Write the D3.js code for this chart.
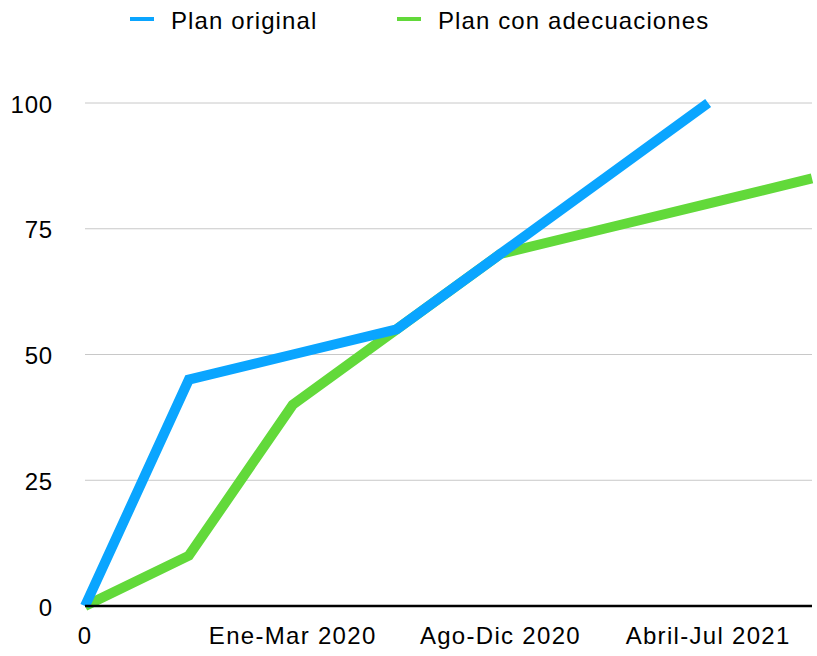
<!DOCTYPE html>
<html>
<head>
<meta charset="utf-8">
<script src="https://cdn.jsdelivr.net/npm/d3@7"></script>
<style>
  body { margin: 0; background: #fff; }
  text { font-family: "Liberation Sans", Arial, Helvetica, sans-serif; fill: #000; }
</style>
</head>
<body>
<div id="chart"></div>
<script>
var categories = ['0', '', 'Ene-Mar 2020', '', 'Ago-Dic 2020', '', 'Abril-Jul 2021', ''];
var planOriginal = [0, 45, 50, 55, 70, 85, 100];
var planAdecuaciones = [0, 10, 40, 55, 70, 75, 80, 85];
var yTicks = [0, 25, 50, 75, 100];

var series = [
    {name: 'Plan con adecuaciones', values: planAdecuaciones, color: '#62d93a'},
    {name: 'Plan original', values: planOriginal, color: '#0aa5ff'}
];

var width = 817, height = 656;
var margin = {left: 85, right: 5, top: 103, bottom: 50};

var svg = d3.select('#chart').append('svg')
    .attr('width', width)
    .attr('height', height);

var x = d3.scalePoint()
    .domain(d3.range(categories.length))
    .range([margin.left, width - margin.right]);

var y = d3.scaleLinear()
    .domain([0, 100])
    .range([height - margin.bottom, margin.top]);

// grid lines
svg.append('g')
    .selectAll('line')
    .data(yTicks.filter(function (d) { return d > 0; }))
  .enter().append('line')
    .attr('x1', margin.left)
    .attr('x2', width - margin.right)
    .attr('y1', function (d) { return y(d); })
    .attr('y2', function (d) { return y(d); })
    .attr('stroke', '#c8c8c8')
    .attr('stroke-width', 1);

// y labels
svg.append('g')
    .selectAll('text')
    .data(yTicks)
  .enter().append('text')
    .attr('x', 53)
    .attr('y', function (d) { return y(d); })
    .attr('dy', '0.4em')
    .attr('text-anchor', 'end')
    .style('font-size', '24px')
    .style('letter-spacing', '0.8px')
    .text(function (d) { return d; });

// x labels
svg.append('g')
    .selectAll('text')
    .data(categories)
  .enter().append('text')
    .attr('x', function (d, i) { return x(i); })
    .attr('y', 644)
    .attr('text-anchor', 'middle')
    .style('font-size', '24px')
    .style('letter-spacing', '1.3px')
    .text(function (d) { return d; });

// lines
var line = d3.line()
    .x(function (d, i) { return x(i); })
    .y(function (d) { return y(d); });

svg.append('g')
    .selectAll('path')
    .data(series)
  .enter().append('path')
    .attr('d', function (d) { return line(d.values); })
    .attr('fill', 'none')
    .attr('stroke', function (d) { return d.color; })
    .attr('stroke-width', 10)
    .attr('stroke-linejoin', 'miter');

// x axis baseline
svg.append('line')
    .attr('x1', margin.left)
    .attr('x2', width - margin.right)
    .attr('y1', y(0))
    .attr('y2', y(0))
    .attr('stroke', '#000')
    .attr('stroke-width', 2.5);

// legend
var legendItems = [
    {name: 'Plan original', color: '#0aa5ff', x: 130},
    {name: 'Plan con adecuaciones', color: '#62d93a', x: 397}
];
var legend = svg.append('g')
    .selectAll('g')
    .data(legendItems)
  .enter().append('g')
    .attr('transform', function (d) { return 'translate(' + d.x + ',19)'; });

legend.append('line')
    .attr('x1', 0).attr('x2', 24)
    .attr('y1', 0).attr('y2', 0)
    .attr('stroke', function (d) { return d.color; })
    .attr('stroke-width', 4);

legend.append('text')
    .attr('x', 41)
    .attr('y', 10)
    .style('font-size', '24px')
    .style('letter-spacing', '1.1px')
    .text(function (d) { return d.name; });
</script>
</body>
</html>
